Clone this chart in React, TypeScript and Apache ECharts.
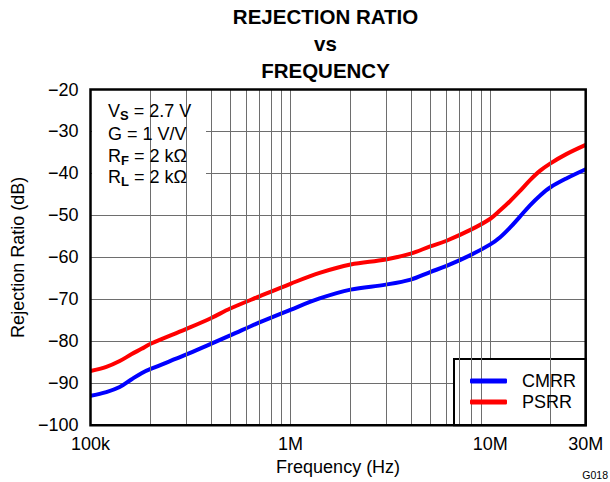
import React, { useEffect, useRef } from "react";
import * as echarts from "echarts";

// ---- data ----
const frequencies = [
  1e5, 1.2e5, 1.4e5, 1.6e5, 1.8e5, 2e5, 3e5, 4e5, 5e5, 7e5, 1e6, 1.4e6, 2e6, 3e6,
  4e6, 5e6, 6e6, 8e6, 1e7, 1.12e7, 1.25e7, 1.4e7, 1.58e7, 1.77e7, 2e7, 2.4e7, 3e7,
];
const cmrr = [
  -93.0, -92.1, -90.9, -89.1, -87.6, -86.6, -83.2, -80.6, -78.6, -75.5, -72.5, -69.8,
  -67.7, -66.5, -65.3, -63.5, -62.1, -59.4, -56.9, -55.2, -53.0, -50.4, -47.6, -45.3,
  -43.3, -41.2, -39.0,
];
const psrr = [
  -87.1, -86.1, -84.7, -83.1, -81.8, -80.6, -77.1, -74.5, -72.2, -69.3, -66.3, -63.7,
  -61.7, -60.5, -59.1, -57.4, -56.1, -53.4, -50.8, -48.8, -46.7, -44.3, -41.6, -39.4,
  -37.6, -35.4, -33.2,
];
const minorGridFreqs = [
  2e5, 3e5, 4e5, 5e5, 6e5, 7e5, 8e5, 9e5, 2e6, 3e6, 4e6, 5e6, 6e6, 7e6, 8e6, 9e6, 2e7,
];
const xTickValues = [1e5, 1e6, 1e7, 3e7];
const xTickLabels = ["100k", "1M", "10M", "30M"];
const seriesNames = ["CMRR", "PSRR"];
const titleLines = ["REJECTION RATIO", "vs", "FREQUENCY"];

const FONT = '"Liberation Sans", Arial, Helvetica, sans-serif';
const GRID_COLOR = "#6e6e6e";
const GRID = { left: 90.5, top: 89.5, width: 495.2, height: 335.7 };

export default function App() {
  const ref = useRef<HTMLDivElement>(null);

  useEffect(() => {
    if (!ref.current) return;
    const chart = echarts.init(ref.current, undefined, { renderer: "svg" });

    const fmtX = (v: number) => {
      for (let i = 0; i < xTickValues.length; i++) {
        if (Math.abs(Math.log10(v) - Math.log10(xTickValues[i])) < 0.01) return xTickLabels[i];
      }
      return "";
    };

    const subRich = {
      m: { fontSize: 18, fontFamily: FONT, fill: "#000", color: "#000" },
      s: {
        fontSize: 13,
        fontWeight: "bold",
        fontFamily: FONT,
        fill: "#000",
        color: "#000",
        padding: [9, 0, 0, 0],
      },
    };

    const annText = (text: string, y: number) => ({
      type: "text",
      x: 108,
      y,
      z: 6,
      style: {
        text,
        rich: subRich,
        fontSize: 18,
        fontFamily: FONT,
        fill: "#000",
        align: "left",
        verticalAlign: "middle",
      },
    });

    const option: any = {
      animation: false,
      backgroundColor: "#fff",
      grid: {
        left: GRID.left,
        top: GRID.top,
        width: GRID.width,
        height: GRID.height,
        containLabel: false,
      },
      xAxis: {
        type: "log",
        logBase: 10,
        min: 1e5,
        max: 3e7,
        name: "Frequency (Hz)",
        nameLocation: "middle",
        nameGap: 31,
        nameTextStyle: { fontSize: 18, fontFamily: FONT, color: "#000" },
        axisLine: { show: false },
        axisTick: { show: false },
        axisLabel: {
          fontSize: 18,
          fontFamily: FONT,
          color: "#000",
          margin: 10,
          showMinLabel: true,
          showMaxLabel: true,
          formatter: fmtX,
        },
        splitLine: {
          show: true,
          showMinLine: false,
          showMaxLine: false,
          lineStyle: { color: GRID_COLOR, width: 1 },
        },
      },
      yAxis: {
        type: "value",
        min: -100,
        max: -20,
        interval: 10,
        name: "Rejection Ratio (dB)",
        nameLocation: "middle",
        nameGap: 62,
        nameTextStyle: { fontSize: 18, fontFamily: FONT, color: "#000" },
        axisLine: { show: false },
        axisTick: { show: false },
        axisLabel: {
          fontSize: 18,
          fontFamily: FONT,
          color: "#000",
          margin: 12,
          formatter: (v: number) => String(v).replace("-", "\u2212"),
        },
        splitLine: {
          show: true,
          showMinLine: false,
          showMaxLine: false,
          lineStyle: { color: GRID_COLOR, width: 1 },
        },
      },
      legend: {
        orient: "vertical",
        left: 470,
        top: 372,
        padding: 0,
        itemWidth: 37,
        itemHeight: 5,
        itemGap: 3,
        icon: "roundRect",
        z: 10,
        data: seriesNames,
        textStyle: {
          fontSize: 18,
          fontFamily: FONT,
          color: "#000",
          lineHeight: 18,
          padding: [0, 0, 0, 10],
        },
      },
      series: [
        {
          type: "line",
          name: "gridlines",
          data: [],
          z: 1,
          silent: true,
          markLine: {
            silent: true,
            symbol: ["none", "none"],
            label: { show: false },
            emphasis: { disabled: true },
            lineStyle: { color: GRID_COLOR, width: 1, type: "solid" },
            data: minorGridFreqs.map((f) => ({ xAxis: f })),
          },
        },
        {
          type: "line",
          name: seriesNames[0],
          data: frequencies.map((f, i) => [f, cmrr[i]]),
          symbol: "none",
          smooth: 0.35,
          z: 3,
          lineStyle: { color: "#0000ff", width: 4 },
          itemStyle: { color: "#0000ff" },
        },
        {
          type: "line",
          name: seriesNames[1],
          data: frequencies.map((f, i) => [f, psrr[i]]),
          symbol: "none",
          smooth: 0.35,
          z: 3,
          lineStyle: { color: "#ff0000", width: 4 },
          itemStyle: { color: "#ff0000" },
        },
      ],
      graphic: [
        {
          type: "rect",
          z: 5,
          shape: { x: 92, y: 91, width: 114, height: 112 },
          style: { fill: "#fff" },
        },
        {
          type: "rect",
          z: 5,
          shape: { x: 454, y: 359, width: GRID.left + GRID.width - 454, height: GRID.top + GRID.height - 359 },
          style: { fill: "#fff", stroke: "#000", lineWidth: 2 },
        },
        {
          type: "rect",
          z: 100,
          shape: { x: GRID.left, y: GRID.top, width: GRID.width, height: GRID.height },
          style: { fill: "none", stroke: "#000", lineWidth: 2.5 },
        },
        ...titleLines.map((t, i) => ({
          type: "text",
          x: 325.5,
          y: 16 + i * 27,
          z: 6,
          style: {
            text: t,
            fontSize: 20.5,
            fontWeight: "bold",
            fontFamily: FONT,
            fill: "#000",
            align: "center",
            verticalAlign: "middle",
          },
        })),
        annText("{m|V}{s|S}{m| = 2.7 V}", 111),
        annText("{m|G = 1 V/V}", 133.5),
        annText("{m|R}{s|F}{m| = 2 k\u03A9}", 155.5),
        annText("{m|R}{s|L}{m| = 2 k\u03A9}", 177),
        {
          type: "text",
          x: 608,
          y: 474.5,
          z: 6,
          style: {
            text: "G018",
            fontSize: 10.5,
            fontFamily: FONT,
            fill: "#000",
            align: "right",
            verticalAlign: "middle",
          },
        },
      ],
    };

    chart.setOption(option);
    return () => chart.dispose();
  }, []);

  return (
    <div
      ref={ref}
      style={{ position: "fixed", left: 0, top: 0, width: 610, height: 482 }}
    />
  );
}
